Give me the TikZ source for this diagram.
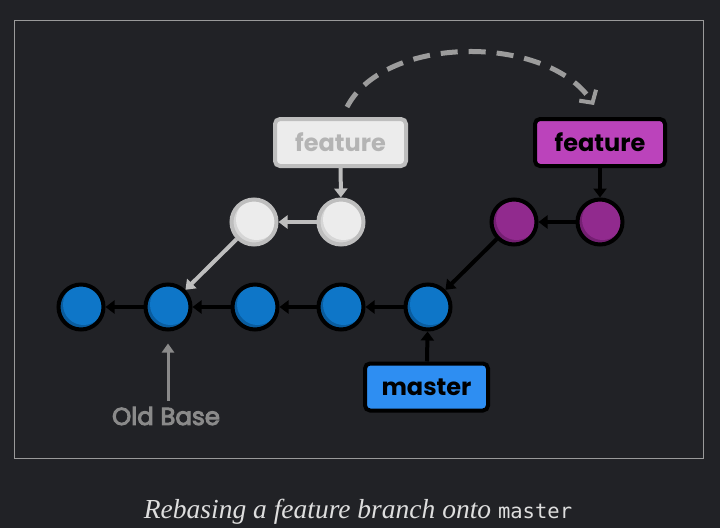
\documentclass[tikz,border=0pt]{standalone}
\usepackage{fontspec}
\setmainfont{Poppins}
\newfontfamily\medfont{Poppins}[FakeBold=4]
\newfontfamily\capfont{Liberation Serif}
\newfontfamily\monofont{DejaVu Sans Mono}
\usetikzlibrary{arrows.meta}
\definecolor{bgc}{HTML}{212226}
\definecolor{framec}{HTML}{9A9A9A}
\definecolor{bluemain}{HTML}{0E76C8}
\definecolor{blueshade}{HTML}{0A5C9E}
\definecolor{purmain}{HTML}{912A8E}
\definecolor{purshade}{HTML}{741F72}
\definecolor{graymain}{HTML}{ECECEC}
\definecolor{grayshade}{HTML}{D6D6D6}
\definecolor{grayborder}{HTML}{BEBEBE}
\definecolor{graytext}{HTML}{B4B4B4}
\definecolor{purbox}{HTML}{BB43BB}
\definecolor{masterbox}{HTML}{2E8EF2}
\definecolor{oldbase}{HTML}{8A8A8A}
\definecolor{dashc}{HTML}{9C9C9C}
\definecolor{capc}{HTML}{DEDEDE}
\tikzset{
  commit/.style 2 args={circle, minimum size=45pt, inner sep=0pt, line width=4pt, fill=#1,
    path picture={\fill[#2] ([xshift=2.5pt,yshift=2.5pt]path picture bounding box.center) circle (20.5pt);}},
  bluec/.style={commit={blueshade}{bluemain}, draw=black},
  purc/.style={commit={purshade}{purmain}, draw=black},
  grayc/.style={commit={grayshade}{graymain}, draw=grayborder},
  label box/.style={rectangle, rounded corners=5pt, line width=4pt, minimum height=47pt, inner sep=0pt, font=\fontsize{24}{27}\selectfont\bfseries},
  blk/.style={line width=4pt, draw=black, -{Triangle[width=13pt,length=9pt]}},
  gry/.style={line width=4pt, draw=grayborder, -{Triangle[width=13pt,length=9pt]}},
}
\begin{document}
\begin{tikzpicture}[x=1pt,y=-1pt]
\fill[bgc] (0,0) rectangle (720,528);
\useasboundingbox (0,0) rectangle (720,528);
\draw[framec, line width=1.2pt] (14.5,20.5) rectangle (703.5,458.5);
% blue commits
\node[bluec] (b1) at (81,307) {};
\node[bluec] (b2) at (168,307) {};
\node[bluec] (b3) at (255,307) {};
\node[bluec] (b4) at (341,307) {};
\node[bluec] (b5) at (428,307) {};
% gray commits
\node[grayc] (g1) at (254,222) {};
\node[grayc] (g2) at (341,222) {};
% purple commits
\node[purc] (p1) at (514,222) {};
\node[purc] (p2) at (600,222) {};
% labels
\node[label box, fill=graymain, draw=grayborder, text=graytext, minimum width=131pt] (gf) at (340.5,142.5) {feature};
\node[label box, fill=purbox, draw=black, text=black, minimum width=130pt] (pf) at (600,142.5) {feature};
\node[label box, fill=masterbox, draw=black, text=black, minimum width=123pt] (mb) at (426.5,387) {master};
\node[text=oldbase, font=\medfont\fontsize{24.5}{28}\selectfont, inner sep=0pt] (ob) at (166,416) {Old Base};
% arrows
\draw[blk] (b2) -- (b1);
\draw[blk] (b3) -- (b2);
\draw[blk] (b4) -- (b3);
\draw[blk] (b5) -- (b4);
\draw[gry] (g2) -- (g1);
\draw[gry] (g1) -- (b2);
\draw[gry] (gf) -- (g2);
\draw[blk] (p2) -- (p1);
\draw[blk] (p1) -- (b5);
\draw[blk] (pf) -- (p2);
\draw[blk] (mb) -- (b5);
\draw[line width=3pt, draw=oldbase, shorten >=12pt, -{Triangle[width=12pt,length=9pt]}] ([yshift=6pt]ob.north -| b2) -- (b2.south);
% dashed move arrow
\coordinate (ds) at (347,107);
\coordinate (de) at (594,105);
\draw[line width=5pt, dashc, dash pattern=on 17pt off 11pt, -{Straight Barb[length=9pt,width=20pt,line width=4pt]}]
  (ds) .. controls (385,34) and (548,34) .. (de);
% caption
\node[text=capc, font=\fontsize{27.5}{30}\selectfont] (cap) at (358,512) {\capfont\itshape Rebasing a feature branch onto \monofont\upshape\fontsize{20.5}{24}\selectfont master};
\end{tikzpicture}
\end{document}
